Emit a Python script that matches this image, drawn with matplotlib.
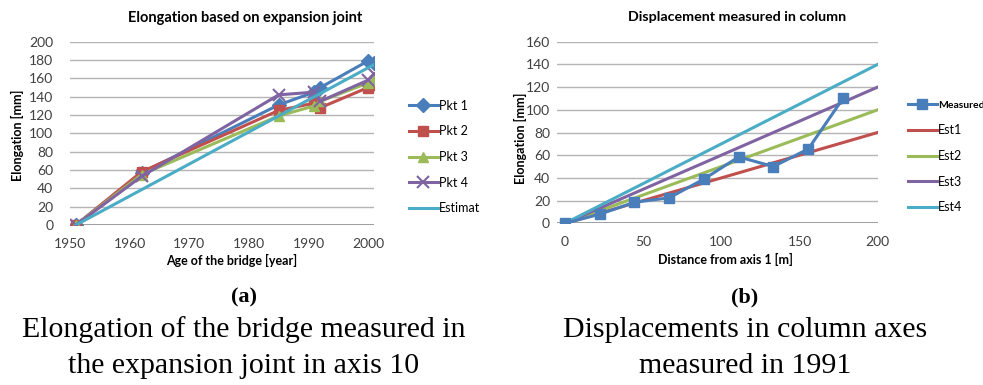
import matplotlib
matplotlib.use("Agg")
import matplotlib.pyplot as plt

# (a) elongation based on expansion joint
years = [1951, 1962, 1985, 1991, 1992, 2000, 2001]
pkt1 = [0, 57, 131, 145, 150, 179, 177]
pkt2 = [0, 58, 125, 133, 128, 150, 153]
pkt3 = [0, 55, 119, 130, 135, 155, 158]
pkt4 = [0, 53, 142, 145, 135, 158, 165]
estimat = [0, 38.5, 119, 140, 143.5, 171.5, 175]

# (b) displacement measured in column
dist = [0, 22.2, 44.4, 66.7, 88.9, 111.1, 133.3, 155.6, 177.8]
measured = [0, 8, 18.5, 22.5, 39, 58.5, 50, 65.5, 110]
est_x = [0, 200]
est1 = [0, 80]
est2 = [0, 100]
est3 = [0, 120]
est4 = [0, 140]

BLUE = "#4a7ebb"
RED = "#c0504d"
GREEN = "#9bbb59"
PURPLE = "#8064a2"
CYAN = "#4bacc6"
GRID = "#b4b4b4"

plt.rcParams['font.family'] = ['Lato', 'DejaVu Sans']

fig = plt.figure(figsize=(9.83, 3.85), dpi=100)
W, H = 983, 385


def box(x0, y0, x1, y1):
    return [x0 / W, 1 - y1 / H, (x1 - x0) / W, (y1 - y0) / H]


def style(ax):
    for s in ax.spines.values():
        s.set_visible(False)
    ax.grid(axis='y', color=GRID, lw=1)
    ax.set_axisbelow(True)
    ax.tick_params(length=0, labelsize=10, colors="#404040")
    ax.axhline(0, color="#909090", lw=1.2, zorder=1)


ax1 = fig.add_axes(box(70, 41.7, 374, 225))
style(ax1)
ax1.plot(years, pkt1, color=BLUE, lw=2.2, marker='D', ms=7, label="Pkt 1")
ax1.plot(years, pkt2, color=RED, lw=2.2, marker='s', ms=7, label="Pkt 2")
ax1.plot(years, pkt3, color=GREEN, lw=2.2, marker='^', ms=7.5, label="Pkt 3")
ax1.plot(years, pkt4, color=PURPLE, lw=2.2, marker='x', ms=8, mew=1.5, label="Pkt 4")
ax1.plot(years, estimat, color=CYAN, lw=2.2, label="Estimat")
ax1.set_xlim(1950, 2001)
ax1.set_ylim(0, 200)
ax1.set_xticks(range(1950, 2001, 10))
ax1.set_yticks(range(0, 201, 20))
ax1.tick_params(axis='y', pad=12)
ax1.tick_params(axis='x', pad=9)
ax1.legend(loc='center left', bbox_to_anchor=(409 / W, 1 - 157 / H),
           bbox_transform=fig.transFigure, frameon=False, fontsize=9,
           handlelength=2.3, handletextpad=0.1, labelspacing=1.1,
           borderpad=0, borderaxespad=0)
fig.text(245 / W, 1 - 18 / H, "Elongation based on expansion joint",
         ha='center', va='center', fontsize=10.5, fontweight='bold')
fig.text(17 / W, 1 - 135 / H, "Elongation [mm]", ha='center', va='center',
         rotation=90, fontsize=9, fontweight='bold')
fig.text(232 / W, 1 - 260 / H, "Age of the bridge [year]", ha='center',
         va='center', fontsize=9, fontweight='bold')

ax2 = fig.add_axes(box(557, 41.7, 877.7, 223.3))
style(ax2)
ax2.plot(est_x, est1, color=RED, lw=2.2, label="Est1")
ax2.plot(est_x, est2, color=GREEN, lw=2.2, label="Est2")
ax2.plot(est_x, est3, color=PURPLE, lw=2.2, label="Est3")
ax2.plot(est_x, est4, color=CYAN, lw=2.2, label="Est4")
ax2.plot(dist, measured, color=BLUE, lw=2.2, marker='s', ms=7, label="Measured")
ax2.set_xlim(-5.1, 200)
ax2.set_ylim(0, 160)
ax2.set_xticks(range(0, 201, 50))
ax2.set_yticks(range(0, 161, 20))
ax2.tick_params(axis='y', pad=5)
ax2.tick_params(axis='x', pad=9)
handles, labels = ax2.get_legend_handles_labels()
order = [4, 0, 1, 2, 3]
leg = ax2.legend([handles[i] for i in order], [labels[i] for i in order],
                 loc='center left', bbox_to_anchor=(908 / W, 1 - 156.5 / H),
                 bbox_transform=fig.transFigure, frameon=False, fontsize=9,
                 handlelength=2.3, handletextpad=0.1, labelspacing=1.1,
                 borderpad=0, borderaxespad=0)
leg.get_texts()[0].set_fontweight('bold')
leg.get_texts()[0].set_fontsize(7.5)
fig.text(737 / W, 1 - 17 / H, "Displacement measured in column",
         ha='center', va='center', fontsize=10.3, fontweight='bold')
fig.text(520 / W, 1 - 138 / H, "Elongation [mm]", ha='center', va='center',
         rotation=90, fontsize=9, fontweight='bold')
fig.text(725 / W, 1 - 259 / H, "Distance from axis 1 [m]", ha='center',
         va='center', fontsize=9, fontweight='bold')

# captions
serif = ['Liberation Serif', 'DejaVu Serif']
fig.text(244 / W, 1 - 297 / H, "(a)", ha='center', va='center',
         fontsize=16, fontweight='bold', family=serif)
fig.text(745 / W, 1 - 297 / H, "(b)", ha='center', va='center',
         fontsize=16, fontweight='bold', family=serif)
fig.text(244 / W, 1 - 330 / H, "Elongation of the bridge measured in",
         ha='center', va='center', fontsize=21.5, family=serif)
fig.text(244 / W, 1 - 366 / H, "the expansion joint in axis 10",
         ha='center', va='center', fontsize=21.5, family=serif)
fig.text(745 / W, 1 - 330 / H, "Displacements in column axes",
         ha='center', va='center', fontsize=21.5, family=serif)
fig.text(745 / W, 1 - 366 / H, "measured in 1991",
         ha='center', va='center', fontsize=21.5, family=serif)

fig.savefig("out.png", dpi=100)
